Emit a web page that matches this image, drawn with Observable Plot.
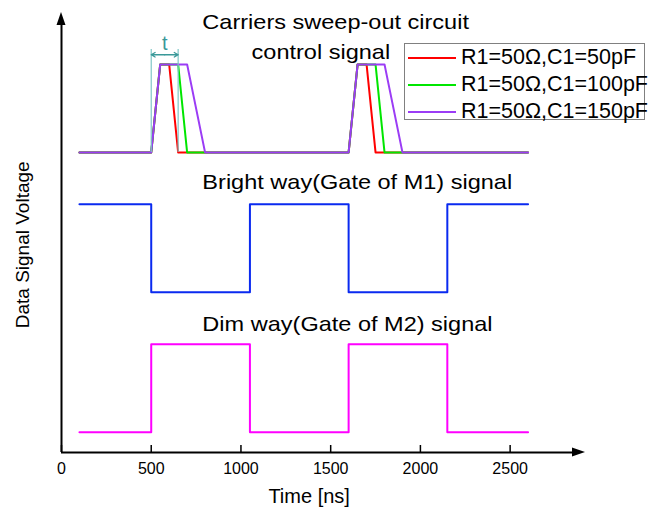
<!DOCTYPE html>
<html>
<head>
<meta charset="utf-8">
<script src="https://cdn.jsdelivr.net/npm/d3@7"></script>
<script src="https://cdn.jsdelivr.net/npm/@observablehq/plot@0.6"></script>
<style>
  body { margin: 0; background: #fff; }
  #wrap { position: relative; width: 649px; height: 507px; font-family: "Liberation Sans", Arial, sans-serif; }
  #legend { position: absolute; left: 404px; top: 43px; width: 241px; height: 77px; border: 1px solid #808080; background: #fff; box-sizing: border-box; }
  .row { position: absolute; left: 3px; height: 27px; display: flex; align-items: center; font-size: 21.5px; color: #000; white-space: nowrap; }
  .sw { width: 48px; height: 2px; margin-right: 5px; }
</style>
</head>
<body>
<div id="wrap"></div>
<script>
// ---- data ----
const xTicks = [0, 500, 1000, 1500, 2000, 2500];
// carriers sweep-out control signal (time ns, normalized level)
const redTime    = [100, 500, 550, 600, 650, 1600, 1650, 1700, 1750, 2600];
const redLevel   = [0, 0, 1, 1, 0, 0, 1, 1, 0, 0];
const greenTime  = [100, 500, 550, 650, 700, 1600, 1650, 1750, 1800, 2600];
const greenLevel = [0, 0, 1, 1, 0, 0, 1, 1, 0, 0];
const purpleTime = [100, 500, 550, 700, 800, 1600, 1650, 1800, 1900, 2600];
const purpleLevel= [0, 0, 1, 1, 0, 0, 1, 1, 0, 0];
// gate signals
const gateTime    = [100, 500, 500, 1050, 1050, 1600, 1600, 2150, 2150, 2600];
const brightLevel = [1, 1, 0, 0, 1, 1, 0, 0, 1, 1];
const dimLevel    = [0, 0, 1, 1, 0, 0, 1, 1, 0, 0];
// vertical offsets of each trace (arbitrary voltage units)
const carrierBase = 3.41, brightBase = 1.82, dimBase = 0.23;
// annotation "t"
const tStart = 500, tEnd = 650;
const titles = ["Carriers sweep-out circuit", "control signal", "Bright way(Gate of M1) signal", "Dim way(Gate of M2) signal"];
const legendNames = ["R1=50Ω,C1=50pF", "R1=50Ω,C1=100pF", "R1=50Ω,C1=150pF"];
const legendColors = ["#ff0000", "#00e600", "#9b3cf5"];
const X_MAX = 2920, Y_MAX = 5;

const mk = (ts, vs, base) => ts.map((t, i) => ({t, v: base + vs[i]}));
const red = mk(redTime, redLevel, carrierBase);
const green = mk(greenTime, greenLevel, carrierBase);
const purple = mk(purpleTime, purpleLevel, carrierBase);
const bright = mk(gateTime, brightLevel, brightBase);
const dim = mk(gateTime, dimLevel, dimBase);

const teal = "#3a9999", tealLight = "#7fc6c6";
const annTop = 4.58, annArrow = 4.52;
const titleFont = 21;

const plot = Plot.plot({
  width: 649, height: 507,
  marginLeft: 61, marginRight: 64, marginTop: 12, marginBottom: 55,
  x: {domain: [0, X_MAX]},
  y: {domain: [0, Y_MAX], axis: null},
  style: {fontFamily: "'Liberation Sans', Arial, sans-serif", color: "#000", background: "transparent"},
  marks: [
    Plot.line(red, {x: "t", y: "v", stroke: legendColors[0], strokeWidth: 2}),
    Plot.line(green, {x: "t", y: "v", stroke: legendColors[1], strokeWidth: 2}),
    Plot.line(purple, {x: "t", y: "v", stroke: legendColors[2], strokeWidth: 2}),
    Plot.line(bright, {x: "t", y: "v", stroke: "#0a2af0", strokeWidth: 2}),
    Plot.line(dim, {x: "t", y: "v", stroke: "#ff00ff", strokeWidth: 2}),
    // t annotation
    Plot.ruleX([tStart, tEnd], {y1: carrierBase, y2: annTop, stroke: tealLight, strokeWidth: 1.2}),
    Plot.arrow([{a: (tStart + tEnd) / 2, b: tStart}, {a: (tStart + tEnd) / 2, b: tEnd}],
      {x1: "a", x2: "b", y1: annArrow, y2: annArrow, stroke: teal, strokeWidth: 1.3, headLength: 6}),
    Plot.text(["t"], {x: (tStart + tEnd) / 2, y: annArrow, dy: -5, lineAnchor: "bottom", fill: teal, fontSize: 20}),
    // titles
    Plot.text([titles[0]], {x: 785, y: 4.818, lineAnchor: "bottom", textAnchor: "start", fontSize: titleFont}),
    Plot.text([titles[1]], {x: 1059, y: 4.466, lineAnchor: "bottom", textAnchor: "start", fontSize: titleFont}),
    Plot.text([titles[2]], {x: 785, y: 2.99, lineAnchor: "bottom", textAnchor: "start", fontSize: titleFont}),
    Plot.text([titles[3]], {x: 785, y: 1.386, lineAnchor: "bottom", textAnchor: "start", fontSize: titleFont}),
    // axes
    Plot.ruleY([0], {x1: 0, x2: X_MAX - 60, stroke: "#000", strokeWidth: 2}),
    Plot.ruleX([0], {y1: 0, y2: Y_MAX - 0.1, stroke: "#000", strokeWidth: 2}),
    Plot.axisX(xTicks, {tickSize: -7, tickPadding: 17, fontSize: 16, label: null, tickFormat: d3.format("d"), stroke: "#000", strokeWidth: 1.5}),
    Plot.text(["Time [ns]"], {frameAnchor: "bottom", x: 1380, dy: 50, lineAnchor: "bottom", textAnchor: "middle", fontSize: 20}),
    Plot.text(["Data Signal Voltage"], {frameAnchor: "left", y: 2.36, dx: -39, rotate: -90, textAnchor: "middle", lineAnchor: "middle", fontSize: 19})
  ]
});

// arrowheads on axes via plot scales
const sx = plot.scale("x"), sy = plot.scale("y");
const svg = d3.select(plot);
const x0 = sx.apply(0), y0 = sy.apply(0), xt = sx.apply(X_MAX), yt = sy.apply(Y_MAX);
svg.append("path").attr("d", `M${xt},${y0}L${xt - 13},${y0 - 4.5}L${xt - 13},${y0 + 4.5}Z`).attr("fill", "#000");
svg.append("path").attr("d", `M${x0},${yt}L${x0 - 4.5},${yt + 13}L${x0 + 4.5},${yt + 13}Z`).attr("fill", "#000");

const wrap = document.getElementById("wrap");
wrap.appendChild(plot);

// the reference's title glyphs are slightly wider than Arial: stretch horizontally
svg.selectAll("text").each(function() {
  if (titles.includes(this.textContent)) {
    const L = this.getComputedTextLength();
    this.setAttribute("textLength", (L * 1.12).toFixed(1));
    this.setAttribute("lengthAdjust", "spacingAndGlyphs");
  }
});

const leg = document.createElement("div");
leg.id = "legend";
legendNames.forEach((name, i) => {
  const r = document.createElement("div");
  r.className = "row";
  r.style.top = (i * 27) + "px";
  const sw = document.createElement("div");
  sw.className = "sw";
  sw.style.background = legendColors[i];
  r.appendChild(sw);
  r.appendChild(document.createTextNode(name));
  leg.appendChild(r);
});
wrap.appendChild(leg);
</script>
</body>
</html>
